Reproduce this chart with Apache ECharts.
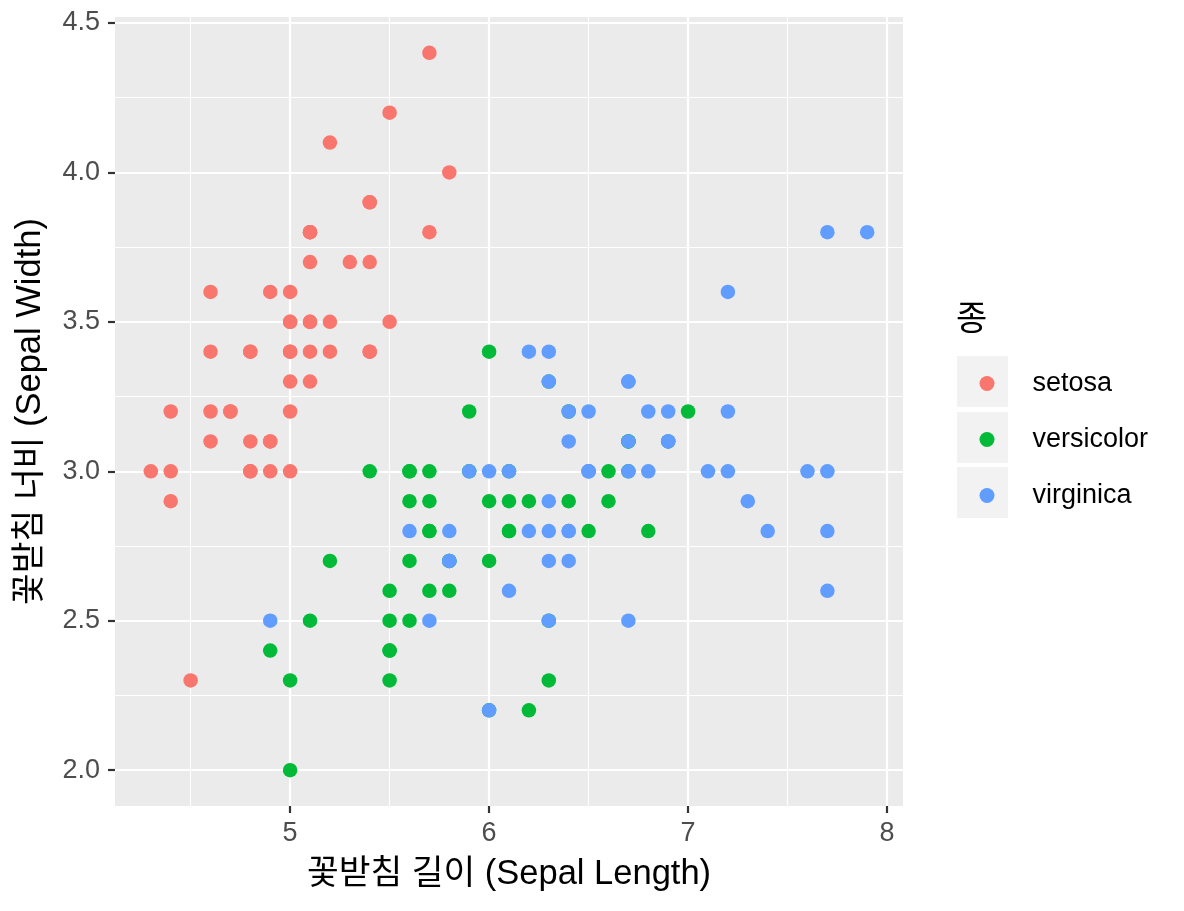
<!DOCTYPE html>
<html>
<head>
<meta charset="utf-8">
<title>iris sepal</title>
<script src="https://cdn.jsdelivr.net/npm/echarts@6/dist/echarts.min.js"></script>
<style>
  html, body { margin: 0; padding: 0; background: #fff; }
  #main { width: 1184px; height: 911px; }
</style>
</head>
<body>
<div id="main"></div>
<script>
// iris: [Sepal.Length, Sepal.Width]
var setosa = [
  [5.1,3.5],[4.9,3.0],[4.7,3.2],[4.6,3.1],[5.0,3.6],[5.4,3.9],[4.6,3.4],[5.0,3.4],[4.4,2.9],[4.9,3.1],
  [5.4,3.7],[4.8,3.4],[4.8,3.0],[4.3,3.0],[5.8,4.0],[5.7,4.4],[5.4,3.9],[5.1,3.5],[5.7,3.8],[5.1,3.8],
  [5.4,3.4],[5.1,3.7],[4.6,3.6],[5.1,3.3],[4.8,3.4],[5.0,3.0],[5.0,3.4],[5.2,3.5],[5.2,3.4],[4.7,3.2],
  [4.8,3.1],[5.4,3.4],[5.2,4.1],[5.5,4.2],[4.9,3.1],[5.0,3.2],[5.5,3.5],[4.9,3.6],[4.4,3.0],[5.1,3.4],
  [5.0,3.5],[4.5,2.3],[4.4,3.2],[5.0,3.5],[5.1,3.8],[4.8,3.0],[5.1,3.8],[4.6,3.2],[5.3,3.7],[5.0,3.3]
];
var versicolor = [
  [7.0,3.2],[6.4,3.2],[6.9,3.1],[5.5,2.3],[6.5,2.8],[5.7,2.8],[6.3,3.3],[4.9,2.4],[6.6,2.9],[5.2,2.7],
  [5.0,2.0],[5.9,3.0],[6.0,2.2],[6.1,2.9],[5.6,2.9],[6.7,3.1],[5.6,3.0],[5.8,2.7],[6.2,2.2],[5.6,2.5],
  [5.9,3.2],[6.1,2.8],[6.3,2.5],[6.1,2.8],[6.4,2.9],[6.6,3.0],[6.8,2.8],[6.7,3.0],[6.0,2.9],[5.7,2.6],
  [5.5,2.4],[5.5,2.4],[5.8,2.7],[6.0,2.7],[5.4,3.0],[6.0,3.4],[6.7,3.1],[6.3,2.3],[5.6,3.0],[5.5,2.5],
  [5.5,2.6],[6.1,3.0],[5.8,2.6],[5.0,2.3],[5.6,2.7],[5.7,3.0],[5.7,2.9],[6.2,2.9],[5.1,2.5],[5.7,2.8]
];
var virginica = [
  [6.3,3.3],[5.8,2.7],[7.1,3.0],[6.3,2.9],[6.5,3.0],[7.6,3.0],[4.9,2.5],[7.3,2.9],[6.7,2.5],[7.2,3.6],
  [6.5,3.2],[6.4,2.7],[6.8,3.0],[5.7,2.5],[5.8,2.8],[6.4,3.2],[6.5,3.0],[7.7,3.8],[7.7,2.6],[6.0,2.2],
  [6.9,3.2],[5.6,2.8],[7.7,2.8],[6.3,2.7],[6.7,3.3],[7.2,3.2],[6.2,2.8],[6.1,3.0],[6.4,2.8],[7.2,3.0],
  [7.4,2.8],[7.9,3.8],[6.4,2.8],[6.3,2.8],[6.1,2.6],[7.7,3.0],[6.3,3.4],[6.4,3.1],[6.0,3.0],[6.9,3.1],
  [6.7,3.1],[6.9,3.1],[5.8,2.7],[6.8,3.2],[6.7,3.3],[6.7,3.0],[6.3,2.5],[6.5,3.0],[6.2,3.4],[5.9,3.0]
];
var speciesNames = ['setosa', 'versicolor', 'virginica'];
var speciesColors = ['#F8766D', '#00BA38', '#619CFF'];

var xTicks = [5, 6, 7, 8];
var xMinor = [4.5, 5.5, 6.5, 7.5];
var yTicks = [2.0, 2.5, 3.0, 3.5, 4.0, 4.5];
var yMinor = [2.25, 2.75, 3.25, 3.75, 4.25];
var xRange = [4.12, 8.08];
var yRange = [1.88, 4.52];

var FONT = 'Helvetica, Arial, "Liberation Sans", "Noto Sans CJK KR", sans-serif';

var chart = echarts.init(document.getElementById('main'), null, { renderer: 'canvas' });

function gridLines() {
  var d = [];
  xMinor.forEach(function (v) { d.push({ xAxis: v, lineStyle: { width: 1.1 } }); });
  yMinor.forEach(function (v) { d.push({ yAxis: v, lineStyle: { width: 1.1 } }); });
  xTicks.forEach(function (v) { d.push({ xAxis: v, lineStyle: { width: 2.2 } }); });
  yTicks.forEach(function (v) { d.push({ yAxis: v, lineStyle: { width: 2.2 } }); });
  return d;
}

var series = [{
  type: 'scatter',
  name: '_grid',
  data: [],
  z: 1,
  silent: true,
  markLine: {
    silent: true,
    symbol: ['none', 'none'],
    label: { show: false },
    lineStyle: { color: '#FFFFFF', type: 'solid' },
    emphasis: { disabled: true },
    animation: false,
    z: 1,
    data: gridLines()
  }
}];
[setosa, versicolor, virginica].forEach(function (arr, i) {
  series.push({
    type: 'scatter',
    name: speciesNames[i],
    data: arr,
    symbol: 'circle',
    symbolSize: 14.5,
    z: 3,
    itemStyle: { color: speciesColors[i], opacity: 1 },
    emphasis: { disabled: true },
    animation: false
  });
});

chart.setOption({
  backgroundColor: '#FFFFFF',
  animation: false,
  textStyle: { fontFamily: FONT },
  grid: {
    left: 115, top: 17, width: 788, height: 789,
    show: true, backgroundColor: '#EBEBEB', borderWidth: 0
  },
  xAxis: {
    type: 'value',
    min: xRange[0], max: xRange[1],
    name: '꽃받침 길이 (Sepal Length)',
    nameLocation: 'middle',
    nameGap: 51,
    nameTextStyle: { fontSize: 34.5, color: '#000', fontFamily: FONT },
    axisLine: { show: false },
    axisTick: { show: true, customValues: xTicks, length: 7, lineStyle: { color: '#333', width: 2.2 } },
    axisLabel: { customValues: xTicks, fontSize: 27, color: '#4D4D4D', margin: 14, fontFamily: FONT,
      formatter: function (v) { return String(v); } },
    splitLine: { show: false }
  },
  yAxis: {
    type: 'value',
    min: yRange[0], max: yRange[1],
    name: '꽃받침 너비 (Sepal Width)',
    nameLocation: 'middle',
    nameGap: 67,
    nameTextStyle: { fontSize: 34.5, color: '#000', fontFamily: FONT },
    axisLine: { show: false },
    axisTick: { show: true, customValues: yTicks, length: 7, lineStyle: { color: '#333', width: 2.2 } },
    axisLabel: { customValues: yTicks, fontSize: 27, color: '#4D4D4D', margin: 15, fontFamily: FONT,
      formatter: function (v) { return v.toFixed(1); } },
    splitLine: { show: false }
  },
  legend: {
    orient: 'vertical',
    left: 974.5, top: 365,
    data: speciesNames.map(function (n) { return { name: n, icon: 'circle' }; }),
    itemWidth: 15, itemHeight: 15,
    itemGap: 29,
    selectedMode: false,
    textStyle: { fontSize: 27, color: '#000', fontFamily: FONT, lineHeight: 22, padding: [0, 0, 0, 33] }
  },
  graphic: [
    { type: 'text', left: 956, top: 304, style: { text: '종', fontSize: 34, fill: '#000', fontFamily: FONT } },
    { type: 'rect', z: -1, shape: { x: 957, y: 356, width: 51, height: 51 }, style: { fill: '#F2F2F2' } },
    { type: 'rect', z: -1, shape: { x: 957, y: 412, width: 51, height: 51 }, style: { fill: '#F2F2F2' } },
    { type: 'rect', z: -1, shape: { x: 957, y: 467, width: 51, height: 51 }, style: { fill: '#F2F2F2' } }
  ],
  series: series
});
</script>
</body>
</html>
